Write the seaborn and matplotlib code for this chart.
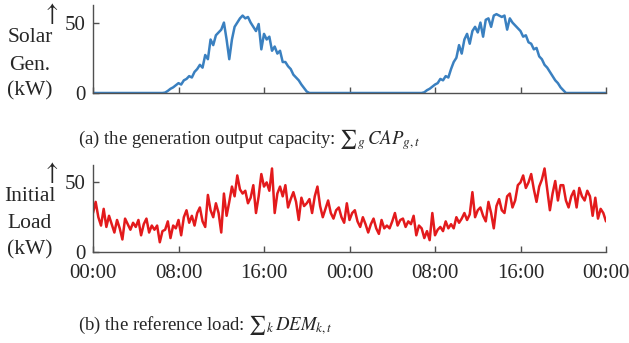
import numpy as np
import pandas as pd
import matplotlib
matplotlib.use("Agg")
import matplotlib.pyplot as plt
import seaborn as sns

# 15-minute samples over two days (hours 0..48)
solar_kw = [
    0, 0, 0, 0,  0, 0, 0, 0,  0, 0, 0, 0,  0, 0, 0, 0,  0, 0, 0, 0,  0, 0, 0, 0,   # h0-5
    0, 0, 0, 0.3,  1.5, 3, 4, 5.5,  7, 6, 9, 10,  12, 11, 15, 17,                   # h6-9
    20, 18, 27, 24,  38, 34, 41, 43,  45, 50, 38, 24,  38, 47, 50, 53,              # h10-13
    55, 53, 54, 50,  47, 44, 49, 31,  42, 38, 40, 30,  33, 28, 30, 22,              # h14-17
    22, 19, 17, 13,  11, 9, 6, 3.5,  1, 0, 0, 0,  0, 0, 0, 0,                        # h18-21
    0, 0, 0, 0,  0, 0, 0, 0,                                                        # h22-23
    0, 0, 0, 0,  0, 0, 0, 0,  0, 0, 0, 0,  0, 0, 0, 0,  0, 0, 0, 0,  0, 0, 0, 0,   # h24-29
    0, 0, 0, 0,  0.5, 2, 3, 4.5,  6, 7, 10, 9,  12, 11, 17, 22,                     # h30-33
    25, 34, 28, 38,  42, 35, 44, 47,  43, 50, 40, 52,  53, 47, 55, 56,              # h34-37
    55, 54, 55, 45,  53, 50, 48, 46,  44, 40, 41, 36,  35, 31, 32, 26,              # h38-41
    24, 20, 18, 15,  12, 9, 7, 4,  2, 0, 0, 0,  0, 0, 0, 0,                          # h42-45
    0, 0, 0, 0,  0, 0, 0, 0,  0,                                                     # h46-48
]

load_kw = [
    28, 36, 25, 19,  31, 18, 26, 20,  14, 23, 17, 9,  24, 20, 16, 21,               # h0-3
    18, 23, 12, 20,  24, 14, 19, 16,  19, 7, 15, 16,  22, 10, 19, 17,               # h4-7
    23, 12, 25, 30,  21, 26, 19, 28,  32, 22, 18, 41,  30, 25, 35, 28,              # h8-11
    14, 42, 26, 36,  47, 40, 55, 45,  42, 44, 35, 39,  48, 28, 40, 56,              # h12-15
    47, 50, 44, 60,  28, 42, 47, 40,  48, 32, 38, 43,  36, 23, 39, 33,              # h16-19
    35, 38, 28, 40,  47, 33, 25, 31,  37, 28, 24, 30,  32, 25, 21, 35,              # h20-23
    23, 28, 30, 22,  18, 25, 20, 14,  20, 24, 17, 13,  23, 17, 19, 17,              # h24-27
    22, 28, 19, 23,  24, 18, 22, 20,  26, 12, 19, 17,  10, 15, 8.5, 28,             # h28-31
    12, 16, 18, 15,  22, 17, 20, 17,  25, 21, 24, 28,  23, 27, 43, 25,              # h32-35
    30, 32, 26, 22,  36, 28, 17, 33,  38, 30, 28, 40,  42, 32, 37, 48,              # h36-39
    50, 55, 46, 50,  56, 45, 36, 47,  52, 60, 45, 30,  42, 51, 37, 48,              # h40-43
    48, 37, 32, 40,  44, 32, 46, 40,  37, 44, 40, 26,  39, 24, 31, 28,              # h44-47
    22,                                                                             # h48
]

tick_hours = [0, 8, 16, 24, 32, 40, 48]
tick_labels = ["00:00", "08:00", "16:00", "00:00", "08:00", "16:00", "00:00"]

hours = np.arange(len(load_kw)) / 4.0
df = pd.DataFrame({"hour": hours, "solar": solar_kw, "load": load_kw})

sns.set_theme(style="ticks")
plt.rcParams["font.family"] = ["Liberation Serif", "DejaVu Serif"]
plt.rcParams["mathtext.fontset"] = "stix"

W, H = 629, 343
fig = plt.figure(figsize=(W / 100, H / 100), dpi=100)

def px_box(x0, y0, x1, y1):
    # pixel box (top-left origin) -> figure fraction rect
    return [x0 / W, 1 - y1 / H, (x1 - x0) / W, (y1 - y0) / H]

ax1 = fig.add_axes(px_box(93, 5, 606, 93))
ax2 = fig.add_axes(px_box(93, 165, 606, 252))

sns.lineplot(data=df, x="hour", y="solar", ax=ax1, color="#3a80c0", linewidth=1.8)
sns.lineplot(data=df, x="hour", y="load", ax=ax2, color="#e31a1c", linewidth=1.8)

for ax in (ax1, ax2):
    ax.set_xlim(0, 48)
    ax.set_ylim(0, 62.5)
    ax.set_yticks([0, 50])
    ax.set_xticks(tick_hours)
    ax.set_xlabel("")
    ax.set_ylabel("")
    for side in ("top", "right"):
        ax.spines[side].set_visible(False)
    for side in ("left", "bottom"):
        ax.spines[side].set_color("#505050")
        ax.spines[side].set_linewidth(1.0)
    ax.tick_params(direction="in", length=4, width=1.0, color="#505050",
                   labelsize=15)
    ax.tick_params(axis="y", pad=5)
    ax.tick_params(axis="x", pad=9)
    ax.set_facecolor("none")

ax1.set_xticklabels([])
ax2.set_xticklabels(tick_labels)

fs = 15.5
# y-axis label blocks
fig.text(50 / W, 1 - 13 / H, r"$\uparrow$", ha="center", va="center", fontsize=18)
for txt, y in [("Solar", 38), ("Gen.", 65), ("(kW)", 91)]:
    fig.text(30 / W, 1 - y / H, txt, ha="center", va="center", fontsize=fs)

fig.text(50 / W, 1 - 172 / H, r"$\uparrow$", ha="center", va="center", fontsize=18)
for txt, y in [("Initial", 197), ("Load", 223), ("(kW)", 250)]:
    fig.text(30 / W, 1 - y / H, txt, ha="center", va="center", fontsize=fs)

# sub-captions
cap = 13.5
fig.text(78 / W, 1 - 140 / H, r"(a) the generation output capacity: ${\sum}_g\, CAP_{g,t}$",
         ha="left", va="center", fontsize=cap)
fig.text(78 / W, 1 - 325 / H, r"(b) the reference load: ${\sum}_k\, DEM_{k,t}$",
         ha="left", va="center", fontsize=cap)

fig.savefig("out.png", dpi=100)
